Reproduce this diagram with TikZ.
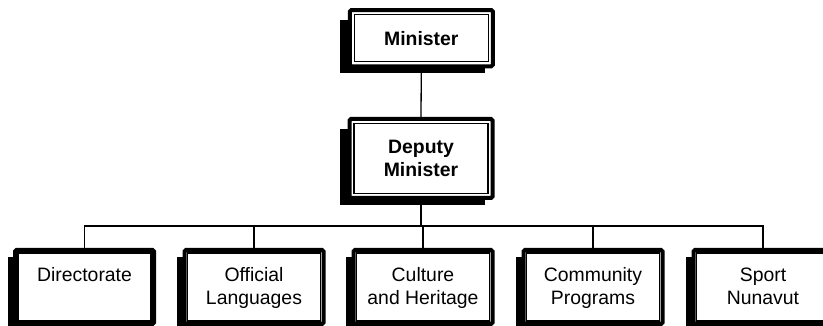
\documentclass[tikz,border=0pt]{standalone}
\usepackage{fontspec}
\setmainfont{Liberation Sans}
\pgfdeclarelayer{bg}
\pgfsetlayers{bg,main}
\begin{document}
\begin{tikzpicture}[x=1pt,y=-1pt,
  box/.style={draw, line width=4pt, fill=white, rounded corners=1.5pt, inner sep=0pt,
    align=center, font=\fontsize{19.4}{23}\selectfont},
  topbox/.style={box, minimum width=143pt, font=\fontsize{19.4}{23.5}\selectfont\bfseries},
  lowbox/.style={box, minimum width=139pt, minimum height=74pt, text height=38.5pt, text depth=2.5pt},
  link/.style={line width=1.3pt},
  frame/.style={line width=1.2pt}]
\useasboundingbox (0,0) rectangle (823,326);
\node[topbox, minimum height=56.3pt] (min) at (421.3,38.2) {Minister};
\node[topbox, minimum height=79pt] (dep) at (421,158.5) {Deputy\\Minister};
\node[lowbox] (b1) at (84.5,287) {Directorate\\\mbox{}};
\node[lowbox] (b2) at (254,287) {Official\\Languages};
\node[lowbox] (b3) at (423,287) {Culture\\and Heritage};
\node[lowbox] (b4) at (593,287) {Community\\Programs};
\node[lowbox] (b5) at (763,287) {Sport\\Nunavut};
% inner frames
\foreach \n in {min,dep}
  \draw[frame] ([shift={(6.5,6.5)}]\n.north west) rectangle ([shift={(-6.5,-6.5)}]\n.south east);
\foreach \n in {b1,b2,b3,b4,b5}
  \draw[frame] ([shift={(5,5)}]\n.north west) rectangle ([shift={(-5,-5)}]\n.south east);
% shadows
\begin{pgfonlayer}{bg}
\foreach \n in {min,dep}
  \fill ([shift={(-7.5,12)}]\n.north west) rectangle ([shift={(-10,5)}]\n.south east);
\foreach \n in {b1,b2,b3,b4,b5}
  \fill ([shift={(-5.5,9)}]\n.north west) rectangle ([shift={(-10,5)}]\n.south east);
\end{pgfonlayer}
% connectors
\coordinate (bus) at (423,226);
\draw[link] (min.south) -- (dep.north);
\draw[link] (dep.south) -- (dep.south |- bus);
\draw[link] (b1.north) |- (bus) -| (b5.north);
\draw[link] (b2.north) -- (b2.north |- bus);
\draw[link] (b3.north) -- (b3.north |- bus);
\draw[link] (b4.north) -- (b4.north |- bus);
\end{tikzpicture}
\end{document}
